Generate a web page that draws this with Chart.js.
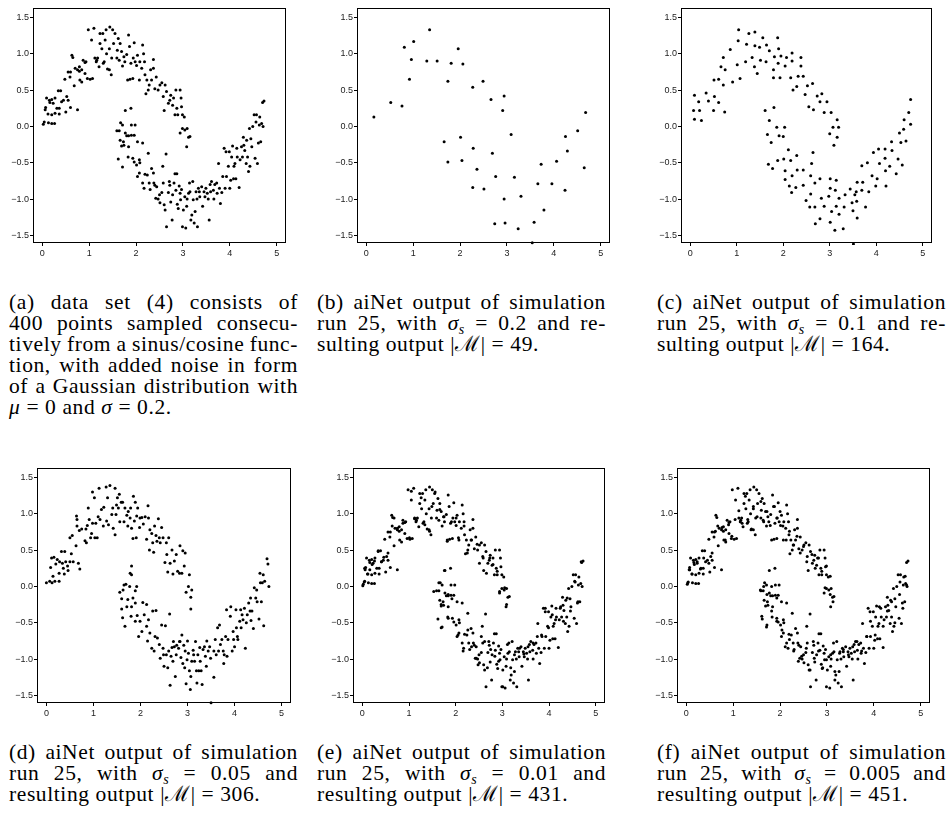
<!DOCTYPE html>
<html>
<head>
<meta charset="utf-8">
<script src="https://cdn.jsdelivr.net/npm/chart.js@4.4.1/dist/chart.umd.min.js"></script>
<style>
  body { margin: 0; background: #fff; }
  #fig { position: relative; width: 950px; height: 814px; overflow: hidden; }
  canvas { position: absolute; }
  .cap { position: absolute; width: 289px; font-family: "Liberation Serif", "Times New Roman", serif;
         font-size: 21.5px; line-height: 21px; letter-spacing: 0.6px; color: #000; }
  .cap div { white-space: nowrap; height: 21px; }
  .cap .j { display: flex; justify-content: space-between; }
  .cap sub { font-size: 14px; line-height: 0; vertical-align: -4px; font-style: italic; }
</style>
</head>
<body>
<div id="fig"></div>
<script>
// axis ticks shared by all six panels
const xTicks = [0, 1, 2, 3, 4, 5];
const yTicks = [-1.5, -1.0, -0.5, 0.0, 0.5, 1.0, 1.5];

// (a) original data set
const panelA = [
  [0.02,0.03],[0.04,0.06],[0.13,0.05],[0.2,0.04],[0.26,0.04],[0.07,0.26],[0.06,0.23],[0.09,0.39],[0.15,0.36],[0.16,0.33],
  [0.2,0.37],[0.23,0.32],[0.27,0.39],[0.34,0.49],[0.39,0.49],[0.31,0.25],[0.36,0.25],[0.45,0.36],[0.41,0.34],[0.5,0.2],
  [0.52,0.41],[0.55,0.36],[0.12,0.17],[0.2,0.16],[0.27,0.18],[0.36,0.17],[0.6,0.26],[0.48,0.65],[0.55,0.75],[0.6,0.75],
  [0.63,0.98],[0.65,0.95],[0.59,0.68],[0.68,0.56],[0.75,0.23],[0.7,0.8],[0.75,0.78],[0.79,0.82],[0.79,0.76],[0.84,0.78],
  [0.8,0.64],[0.84,0.61],[0.87,0.91],[0.91,0.88],[0.91,0.73],[0.93,0.89],[0.98,1.33],[0.96,0.66],[1.02,0.65],[1.05,1.19],
  [1.07,0.66],[1.1,1.35],[1.12,0.94],[1.15,0.89],[1.16,0.91],[1.18,0.94],[1.21,0.82],[1.23,1.14],[1.23,1.28],[1.27,1.07],
  [1.29,1.28],[1.3,0.87],[1.32,0.89],[1.34,1.19],[1.36,1.33],[1.37,1.0],[1.39,0.79],[1.43,0.78],[1.44,1.37],[1.47,0.71],
  [1.43,1.07],[1.48,0.94],[1.5,1.33],[1.52,1.14],[1.55,1.28],[1.59,0.94],[1.6,1.05],[1.62,1.21],[1.64,0.91],[1.66,1.14],
  [1.69,1.03],[1.71,0.83],[1.74,0.96],[1.76,0.89],[1.8,0.99],[1.82,0.64],[1.84,1.26],[1.86,1.1],[1.87,0.65],[1.89,0.87],
  [1.93,0.66],[1.94,0.94],[1.96,1.15],[1.98,0.89],[2.01,0.84],[2.03,0.98],[2.07,0.64],[2.08,0.89],[2.12,0.8],[2.14,1.12],
  [2.16,1.0],[2.18,0.89],[2.19,0.71],[2.23,0.64],[2.21,0.45],[2.26,0.5],[2.28,0.57],[2.31,0.78],[2.33,0.64],[2.37,0.92],
  [2.37,0.8],[2.4,0.52],[2.43,0.68],[2.47,0.5],[2.51,0.57],[2.55,0.6],[2.58,0.41],[2.6,0.22],[2.62,0.57],[2.65,0.48],
  [2.69,0.32],[2.72,0.36],[2.74,0.43],[2.78,0.29],[2.8,0.39],[2.83,0.16],[2.85,0.5],[2.87,0.25],[2.89,0.16],[2.94,0.5],
  [2.96,0.39],[2.97,0.27],[2.99,0.16],[3.03,0.13],[2.94,-0.09],[2.99,-0.03],[3.04,-0.05],[3.09,-0.03],[3.12,-0.15],[3.15,-0.14],
  [3.08,-0.28],[1.59,-0.06],[1.64,-0.06],[1.67,0.05],[1.71,0.02],[1.77,0.22],[1.89,0.25],[1.9,0.02],[1.98,0.02],[1.77,-0.09],
  [1.8,-0.13],[1.84,-0.13],[1.73,-0.21],[1.74,-0.26],[1.84,-0.28],[1.66,-0.19],[1.69,-0.27],[1.9,-0.12],[1.96,-0.12],[2.03,-0.21],
  [2.14,-0.23],[1.62,-0.45],[1.71,-0.56],[1.83,-0.42],[1.93,-0.44],[1.96,-0.49],[2.01,-0.53],[2.07,-0.46],[2.08,-0.5],[2.03,-0.69],
  [2.07,-0.64],[2.14,-0.78],[2.17,-0.85],[2.19,-0.66],[2.24,-0.67],[2.26,-0.37],[2.28,-0.78],[2.3,-0.87],[2.33,-0.58],[2.37,-0.64],
  [2.38,-0.78],[2.4,-0.81],[2.44,-0.83],[2.42,-0.99],[2.47,-1.0],[2.5,-0.94],[2.51,-1.05],[2.55,-0.91],[2.57,-0.55],[2.58,-0.78],
  [2.6,-1.08],[2.62,-1.15],[2.64,-0.38],[2.65,-1.38],[2.69,-0.91],[2.71,-0.76],[2.72,-0.81],[2.74,-1.04],[2.77,-1.29],[2.78,-0.94],
  [2.81,-0.78],[2.83,-0.65],[2.85,-0.88],[2.87,-0.65],[2.88,-1.07],[2.9,-1.13],[2.92,-0.82],[2.94,-0.92],[2.95,-1.01],[2.97,-0.87],
  [2.99,-1.38],[3.01,-1.15],[3.04,-0.97],[3.06,-1.4],[3.08,-1.1],[3.09,-1.0],[3.12,-0.92],[3.14,-0.78],[3.15,-0.9],[3.17,-1.29],
  [3.19,-1.22],[3.21,-0.76],[3.22,-1.01],[3.24,-1.33],[3.26,-1.17],[3.28,-0.9],[3.3,-1.0],[3.31,-1.38],[3.33,-0.85],[3.35,-0.9],
  [3.36,-0.97],[3.4,-0.83],[3.42,-1.1],[3.45,-0.9],[3.47,-0.97],[3.49,-0.85],[3.52,-0.92],[3.54,-1.0],[3.56,-1.29],[3.58,-0.8],
  [3.59,-0.9],[3.61,-0.76],[3.65,-0.88],[3.66,-1.0],[3.68,-0.8],[3.72,-0.78],[3.73,-0.92],[3.76,-0.51],[3.78,-0.85],[3.8,-1.06],
  [3.83,-0.91],[3.85,-0.69],[3.88,-0.3],[3.9,-0.85],[3.92,-0.35],[3.93,-0.69],[3.97,-0.55],[3.99,-0.35],[4.0,-0.85],[4.02,-0.74],
  [4.04,-0.42],[4.06,-0.27],[4.08,-0.72],[4.09,-0.55],[4.11,-0.51],[4.13,-0.72],[4.15,-0.3],[4.16,-0.42],[4.2,-0.84],[4.22,-0.46],
  [4.25,-0.28],[4.27,-0.42],[4.29,-0.15],[4.3,-0.26],[4.32,-0.33],[4.35,-0.51],[4.36,-0.19],[4.38,-0.42],[4.4,-0.62],[4.42,-0.03],
  [4.43,-0.55],[4.45,-0.17],[4.47,-0.28],[4.49,0.0],[4.52,0.16],[4.54,-0.44],[4.56,0.06],[4.57,0.16],[4.59,-0.51],[4.61,-0.23],
  [4.63,0.02],[4.64,0.13],[4.66,-0.21],[4.68,0.04],[4.7,0.33],[4.73,0.35],[4.71,0.0]
];

// (b) sigma_s = 0.2, 49 points
const panelB = [
  [0.16,0.13],[0.52,0.33],[0.76,0.28],[0.81,1.09],[0.92,0.65],[0.96,0.92],[1.01,1.17],[1.29,0.9],[1.35,1.33],[1.51,0.9],
  [1.66,-0.21],[1.74,0.62],[1.74,-0.49],[1.81,0.87],[1.96,1.07],[2.01,-0.15],[2.04,-0.47],[2.06,0.86],[2.28,-0.3],[2.27,-0.84],
  [2.27,0.54],[2.36,-0.59],[2.49,0.62],[2.51,-0.86],[2.66,0.37],[2.69,-0.37],[2.74,-1.34],[2.76,-0.69],[2.91,0.22],[2.94,0.42],
  [2.94,-1.0],[2.96,-1.33],[3.09,-0.11],[3.16,-0.7],[3.24,-1.41],[3.3,-0.96],[3.54,-1.6],[3.58,-1.32],[3.66,-0.79],[3.73,-0.52],
  [3.79,-1.15],[3.96,-0.79],[4.06,-0.48],[4.24,-0.88],[4.25,-0.14],[4.29,-0.34],[4.51,-0.06],[4.65,-0.57],[4.68,0.19]
];

// (c) sigma_s = 0.1
const panelC = [
  [0.07,0.22],[0.09,0.1],[0.09,0.43],[0.18,0.34],[0.2,0.22],[0.24,0.08],[0.34,0.46],[0.39,0.35],[0.5,0.22],[0.51,0.64],
  [0.52,0.41],[0.61,0.65],[0.61,0.33],[0.66,0.82],[0.71,0.95],[0.71,0.57],[0.75,0.78],[0.74,0.2],[0.86,1.06],[0.91,0.61],
  [1.01,0.85],[1.03,1.18],[1.04,1.33],[1.07,0.66],[1.19,0.89],[1.21,1.13],[1.26,1.28],[1.33,0.95],[1.38,0.82],[1.39,1.3],
  [1.39,1.11],[1.44,0.73],[1.49,1.09],[1.51,0.91],[1.56,1.22],[1.63,0.89],[1.64,1.12],[1.7,1.04],[1.79,0.78],[1.79,0.67],
  [1.81,0.96],[1.88,1.22],[1.89,0.87],[1.9,1.07],[1.93,0.67],[1.95,0.97],[2.04,0.83],[2.07,0.95],[2.16,0.67],[2.19,0.9],
  [2.19,1.01],[2.21,0.5],[2.29,0.55],[2.32,0.69],[2.38,0.95],[2.38,0.83],[2.43,0.69],[2.47,0.44],[2.52,0.56],[2.55,0.27],
  [2.63,0.59],[2.65,0.23],[2.73,0.42],[2.79,0.34],[2.83,0.45],[2.88,0.19],[2.94,0.34],[3.03,0.19],[3.16,0.09],[3.0,-0.1],
  [3.07,-0.01],[3.09,-0.26],[3.16,-0.15],[3.19,-0.01],[1.61,0.22],[1.8,0.26],[1.7,0.08],[1.66,-0.11],[1.74,-0.22],[1.86,-0.01],
  [1.91,-0.13],[2.03,-0.01],[2.0,-0.14],[1.68,-0.52],[1.77,-0.58],[1.88,-0.47],[2.01,-0.45],[2.04,-0.61],[2.04,-0.73],[2.11,-0.32],
  [2.16,-0.47],[2.19,-0.68],[2.13,-0.82],[2.18,-0.91],[2.29,-0.4],[2.3,-0.6],[2.27,-0.84],[2.43,-0.6],[2.43,-0.81],[2.49,-1.02],
  [2.57,-1.11],[2.59,-0.93],[2.59,-0.68],[2.61,-0.51],[2.64,-0.36],[2.68,-0.78],[2.68,-1.11],[2.69,-1.34],[2.79,-0.72],[2.82,-0.99],
  [2.79,-1.27],[2.88,-1.1],[2.98,-0.96],[3.01,-0.72],[3.01,-0.85],[3.04,-1.17],[3.01,-1.32],[3.11,-1.43],[3.12,-0.88],[3.14,-0.74],
  [3.14,-1.1],[3.2,-0.99],[3.2,-1.21],[3.29,-1.41],[3.31,-1.11],[3.33,-0.94],[3.44,-0.86],[3.48,-1.05],[3.5,-1.16],[3.51,-1.62],
  [3.54,-0.94],[3.57,-0.9],[3.58,-1.03],[3.59,-0.77],[3.59,-1.26],[3.69,-0.54],[3.69,-0.88],[3.71,-0.77],[3.77,-1.11],[3.81,-0.5],
  [3.84,-0.9],[3.91,-0.68],[3.94,-0.36],[3.99,-0.82],[4.02,-0.72],[4.05,-0.31],[4.07,-0.51],[4.19,-0.31],[4.19,-0.44],[4.2,-0.61],
  [4.21,-0.82],[4.29,-0.55],[4.33,-0.21],[4.34,-0.33],[4.43,-0.65],[4.47,-0.45],[4.5,-0.09],[4.53,-0.22],[4.56,-0.53],[4.59,-0.04],
  [4.6,0.09],[4.64,-0.2],[4.7,0.19],[4.74,0.03],[4.74,0.37]
];

// (d) sigma_s = 0.05
const panelD = [
  [0.0,0.05],[0.07,0.07],[0.12,0.05],[0.14,0.14],[0.18,0.07],[0.27,0.07],[0.09,0.26],[0.11,0.39],[0.16,0.4],[0.2,0.31],
  [0.23,0.37],[0.27,0.18],[0.28,0.34],[0.32,0.48],[0.36,0.25],[0.34,0.32],[0.38,0.17],[0.39,0.48],[0.41,0.34],[0.45,0.28],
  [0.46,0.22],[0.5,0.34],[0.53,0.45],[0.5,0.67],[0.55,0.7],[0.57,0.34],[0.63,0.56],[0.64,0.97],[0.65,0.83],[0.65,0.92],
  [0.68,0.32],[0.7,0.77],[0.71,0.24],[0.75,0.79],[0.82,0.63],[0.84,0.79],[0.85,0.6],[0.87,0.84],[0.89,1.08],[0.91,0.92],
  [0.94,0.67],[0.96,0.73],[0.98,1.3],[0.98,0.87],[1.02,1.22],[1.03,0.67],[1.05,0.87],[1.08,0.67],[1.1,0.96],[1.12,1.35],
  [1.14,0.92],[1.17,1.06],[1.21,0.83],[1.22,1.09],[1.27,1.37],[1.28,0.9],[1.3,1.22],[1.32,0.85],[1.35,1.39],[1.39,0.99],
  [1.41,1.08],[1.42,0.8],[1.46,0.71],[1.46,1.35],[1.48,0.99],[1.49,1.12],[1.51,1.22],[1.53,1.08],[1.55,1.27],[1.56,0.89],
  [1.59,1.16],[1.62,1.16],[1.65,0.89],[1.67,1.08],[1.71,0.98],[1.73,0.83],[1.74,1.03],[1.78,0.94],[1.79,1.08],[1.81,0.8],
  [1.84,0.66],[1.85,1.24],[1.87,0.9],[1.89,1.16],[1.91,0.67],[1.92,0.97],[1.94,1.08],[1.98,0.81],[1.99,0.94],[2.03,0.95],
  [2.06,0.86],[2.1,0.96],[2.13,0.65],[2.16,1.11],[2.17,0.94],[2.19,0.5],[2.2,0.78],[2.24,0.73],[2.26,0.6],[2.28,0.47],
  [2.3,0.83],[2.33,0.7],[2.35,0.62],[2.38,0.93],[2.4,0.67],[2.42,0.6],[2.45,0.81],[2.48,0.67],[2.52,0.33],[2.55,0.6],
  [2.56,0.44],[2.58,0.2],[2.6,0.67],[2.63,0.32],[2.67,0.5],[2.69,0.17],[2.72,0.35],[2.76,0.44],[2.79,0.21],[2.83,0.18],
  [2.84,0.56],[2.88,0.18],[2.9,0.49],[2.93,0.28],[2.95,0.46],[2.97,-0.08],[3.02,0.0],[3.04,0.16],[3.07,-0.15],[3.09,-0.05],
  [3.07,-0.31],[1.56,-0.08],[1.6,-0.17],[1.63,-0.05],[1.65,0.02],[1.69,0.03],[1.71,-0.28],[1.73,-0.18],[1.77,0.0],[1.78,0.18],
  [1.81,0.28],[1.81,0.16],[1.84,-0.16],[1.89,-0.06],[1.92,0.0],[1.6,-0.31],[1.62,-0.43],[1.67,-0.55],[1.81,-0.28],[1.89,-0.23],
  [2.05,-0.22],[2.13,-0.25],[1.8,-0.41],[1.89,-0.48],[1.93,-0.4],[1.96,-0.69],[1.99,-0.48],[2.03,-0.62],[2.08,-0.39],[2.13,-0.55],
  [2.15,-0.75],[2.17,-0.46],[2.2,-0.64],[2.24,-0.85],[2.26,-0.34],[2.29,-0.89],[2.31,-0.69],[2.33,-0.33],[2.36,-0.71],[2.4,-0.8],
  [2.42,-0.99],[2.45,-0.53],[2.48,-0.85],[2.49,-0.94],[2.5,-1.1],[2.53,-0.54],[2.55,-0.94],[2.58,-1.12],[2.6,-0.89],[2.62,-0.38],
  [2.63,-1.36],[2.65,-0.96],[2.67,-0.84],[2.69,-1.03],[2.7,-0.76],[2.72,-0.83],[2.74,-1.24],[2.76,-0.94],[2.77,-0.81],[2.81,-0.85],
  [2.83,-0.76],[2.84,-0.76],[2.86,-0.98],[2.88,-0.67],[2.9,-1.06],[2.92,-0.81],[2.94,-1.12],[2.95,-0.89],[2.97,-1.34],[2.99,-1.01],
  [3.0,-0.75],[3.02,-0.92],[3.04,-1.16],[3.06,-1.42],[3.07,-1.24],[3.09,-1.03],[3.12,-0.88],[3.13,-0.94],[3.15,-1.03],[3.17,-0.76],
  [3.19,-1.16],[3.2,-1.33],[3.22,-0.94],[3.24,-1.16],[3.26,-0.84],[3.27,-1.03],[3.29,-1.16],[3.31,-1.35],[3.33,-0.87],[3.36,-0.83],
  [3.38,-0.96],[3.4,-1.1],[3.41,-0.75],[3.44,-0.89],[3.47,-0.83],[3.49,-0.99],[3.5,-1.6],[3.56,-1.25],[3.56,-0.89],[3.59,-0.73],
  [3.61,-0.94],[3.64,-0.57],[3.66,-0.89],[3.68,-0.53],[3.7,-0.8],[3.73,-0.73],[3.76,-0.89],[3.77,-1.06],[3.78,-0.94],[3.81,-0.69],
  [3.83,-0.32],[3.84,-0.96],[3.86,-0.73],[3.91,-0.41],[3.92,-0.28],[3.95,-0.89],[3.97,-0.62],[3.98,-0.73],[4.0,-0.83],[4.03,-0.32],
  [4.04,-0.57],[4.06,-0.69],[4.07,-0.73],[4.11,-0.48],[4.13,-0.32],[4.14,-0.57],[4.16,-0.39],[4.18,-0.46],[4.21,-0.3],[4.23,-0.85],
  [4.25,-0.5],[4.27,-0.39],[4.3,-0.23],[4.33,-0.34],[4.34,-0.16],[4.35,-0.47],[4.37,-0.34],[4.4,-0.58],[4.42,-0.02],[4.45,-0.16],
  [4.47,-0.05],[4.48,-0.21],[4.52,-0.45],[4.54,0.18],[4.55,0.05],[4.57,-0.21],[4.59,0.05],[4.61,0.16],[4.62,-0.54],[4.64,0.07],
  [4.69,0.38],[4.71,0.31],[4.73,0.0]
];

// (e) sigma_s = 0.01: the data set plus the extra points visible next to it
const panelEExtra = [
  [0.01,0.01],[0.05,0.07],[0.05,0.25],[0.11,0.17],[0.16,0.23],[0.21,0.3],[0.26,0.35],[0.34,0.48],[0.41,0.34],[0.46,0.4],
  [0.55,0.46],[0.64,0.83],[0.68,0.94],[0.75,0.8],[0.87,0.87],[1.01,0.67],[1.05,1.31],[1.12,0.93],[1.26,1.22],[1.34,0.85],
  [1.44,0.76],[1.49,1.1],[1.56,1.3],[1.66,1.06],[1.75,0.96],[1.82,0.62],[1.91,0.89],[2.01,0.94],[2.06,0.67],[2.18,0.83],
  [2.25,0.46],[2.34,0.64],[2.46,0.58],[2.51,0.32],[2.59,0.39],[2.66,0.18],[2.73,0.39],[2.8,0.3],[2.89,0.21],[2.94,-0.07],
  [3.05,-0.02],[3.09,-0.25],[1.53,-0.07],[1.64,0.05],[1.69,-0.25],[1.76,0.22],[1.84,-0.11],[1.92,-0.17],[1.69,-0.57],[1.84,-0.44],
  [2.05,-0.67],[2.16,-0.89],[2.26,-0.6],[2.34,-0.83],[2.44,-0.99],[2.48,-1.08],[2.55,-0.69],[2.62,-0.76],[2.68,-1.12],[2.75,-0.87],
  [2.84,-0.96],[2.92,-1.03],[3.01,-1.38],[3.11,-0.8],[3.18,-1.12],[3.26,-0.94],[3.37,-0.85],[3.46,-0.93],[3.55,-0.83],[3.66,-0.78],
  [3.75,-0.69],[3.84,-0.67],[3.92,-0.3],[3.99,-0.57],[4.07,-0.39],[4.14,-0.46],[4.24,-0.3],[4.31,-0.48],[4.39,-0.16],[4.46,-0.34],
  [4.55,0.07],[4.62,-0.21],[4.69,0.34]
];

// (f) sigma_s = 0.005: the data set plus the extra points visible next to it
const panelFExtra = [
  [0.03,0.05],[0.07,0.23],[0.12,0.17],[0.17,0.3],[0.23,0.34],[0.3,0.24],[0.37,0.39],[0.48,0.32],[0.55,0.46],[0.62,0.76],
  [0.67,0.83],[0.76,0.81],[0.83,0.64],[0.9,0.85],[0.97,0.69],[1.04,0.92],[1.12,1.04],[1.19,0.87],[1.26,1.24],[1.31,0.92],
  [1.38,0.78],[1.43,1.1],[1.51,0.96],[1.59,1.17],[1.65,0.89],[1.72,1.03],[1.79,0.84],[1.88,1.1],[1.93,0.94],[2.0,1.03],
  [2.06,0.83],[2.13,0.64],[2.2,0.76],[2.29,0.57],[2.36,0.69],[2.43,0.46],[2.5,0.55],[2.57,0.34],[2.68,0.44],[2.75,0.25],
  [2.82,0.39],[2.89,0.21],[2.99,0.28],[3.07,0.14],[2.96,-0.02],[3.07,-0.11],[3.13,-0.21],[1.58,-0.05],[1.65,0.0],[1.72,-0.11],
  [1.82,0.0],[1.93,-0.16],[1.61,-0.41],[1.72,-0.53],[1.82,-0.34],[1.93,-0.48],[2.04,-0.6],[2.11,-0.83],[2.2,-0.73],[2.29,-0.89],
  [2.39,-1.03],[2.46,-0.96],[2.56,-0.85],[2.64,-1.15],[2.73,-0.99],[2.82,-0.89],[2.91,-1.12],[2.99,-1.01],[3.08,-0.94],[3.17,-1.17],
  [3.27,-0.92],[3.35,-0.87],[3.46,-0.94],[3.55,-0.83],[3.64,-0.76],[3.74,-0.89],[3.85,-0.69],[3.93,-0.48],[4.03,-0.67],[4.12,-0.28],
  [4.2,-0.55],[4.29,-0.34],[4.38,-0.21],[4.45,-0.5],[4.55,-0.11],[4.62,-0.3],[4.67,0.14],[4.7,0.02]
];

const captionA = [
  '(a) data set (4) consists of',
  '400 points sampled consecu-',
  'tively from a sinus/cosine func-',
  'tion, with added noise in form',
  'of a Gaussian distribution with',
  '<i>μ</i> = 0 and <i>σ</i> = 0.2.'
];
const captionB = ['(b) aiNet output of simulation', 'run 25, with <i>σ</i><sub>s</sub> = 0.2 and re-', 'sulting output |ℳ| = 49.'];
const captionC = ['(c) aiNet output of simulation', 'run 25, with <i>σ</i><sub>s</sub> = 0.1 and re-', 'sulting output |ℳ| = 164.'];
const captionD = ['(d) aiNet output of simulation', 'run 25, with <i>σ</i><sub>s</sub> = 0.05 and', 'resulting output |ℳ| = 306.'];
const captionE = ['(e) aiNet output of simulation', 'run 25, with <i>σ</i><sub>s</sub> = 0.01 and', 'resulting output |ℳ| = 431.'];
const captionF = ['(f) aiNet output of simulation', 'run 25, with <i>σ</i><sub>s</sub> = 0.005 and', 'resulting output |ℳ| = 451.'];

const fig = document.getElementById('fig');

// plain box around the plotting region, like R's box()
const boxPlugin = {
  id: 'box',
  afterDatasetsDraw(chart) {
    const a = chart.chartArea, c = chart.ctx;
    c.save();
    c.strokeStyle = '#000';
    c.lineWidth = 1;
    c.strokeRect(Math.round(a.left) + 0.5, Math.round(a.top) + 0.5,
                 Math.round(a.right - a.left) - 1, Math.round(a.bottom - a.top) - 1);
    c.restore();
  }
};

const tickFont = { family: '"Liberation Sans", Arial, sans-serif', size: 9 };

function makePanel(box, points) {
  const canvas = document.createElement('canvas');
  const w = (box.r - box.l) + 42, h = (box.b - box.t) + 34;
  canvas.width = w; canvas.height = h;
  canvas.style.left = (box.l - 34) + 'px';
  canvas.style.top = (box.t - 10) + 'px';
  canvas.style.width = w + 'px'; canvas.style.height = h + 'px';
  fig.appendChild(canvas);

  new Chart(canvas, {
    type: 'scatter',
    data: {
      datasets: [{
        data: points.map(p => ({ x: p[0], y: p[1] })),
        pointRadius: 1.5,
        pointBorderWidth: 0,
        pointBackgroundColor: '#000',
        clip: 2
      }]
    },
    options: {
      responsive: false,
      animation: false,
      devicePixelRatio: 1,
      layout: { padding: { left: 4, top: 10, right: 8, bottom: 4 } },
      plugins: { legend: { display: false }, tooltip: { enabled: false } },
      scales: {
        x: {
          type: 'linear', min: -0.2, max: 5.2,
          afterBuildTicks: s => { s.ticks = xTicks.map(v => ({ value: v })); },
          afterFit: s => { s.height = 20; },
          ticks: { font: tickFont, color: '#222', padding: 2, maxRotation: 0, autoSkip: false,
                   callback: v => String(v) },
          grid: { display: true, drawOnChartArea: false, drawTicks: true, tickLength: 3, color: '#000' },
          border: { display: false }
        },
        y: {
          type: 'linear', min: -1.605, max: 1.63,
          afterBuildTicks: s => { s.ticks = yTicks.map(v => ({ value: v })); },
          afterFit: s => { s.width = 30; },
          ticks: { font: tickFont, color: '#222', padding: 1, autoSkip: false,
                   callback: v => v.toFixed(1).replace('-', '\u2212') },
          grid: { display: true, drawOnChartArea: false, drawTicks: true, tickLength: 3, color: '#000' },
          border: { display: false }
        }
      }
    },
    plugins: [boxPlugin]
  });
}

// justified lines are laid out word by word so they can never wrap
function makeCaption(lines, left, top) {
  const d = document.createElement('div');
  d.className = 'cap';
  d.style.left = left + 'px';
  d.style.top = top + 'px';
  d.innerHTML = lines.map((t, i) => {
    if (i === lines.length - 1) return '<div>' + t + '</div>';
    return '<div class="j">' + t.split(' ').map(w => '<span>' + w + '</span>').join('') + '</div>';
  }).join('');
  fig.appendChild(d);
}

makePanel({ l: 33, t: 8, r: 286, b: 243 }, panelA);
makePanel({ l: 357, t: 8, r: 610, b: 243 }, panelB);
makePanel({ l: 681, t: 8, r: 932, b: 243 }, panelC);
makePanel({ l: 37, t: 468, r: 291, b: 703 }, panelD);
makePanel({ l: 353, t: 468, r: 605, b: 703 }, panelA.concat(panelEExtra));
makePanel({ l: 677, t: 468, r: 930, b: 703 }, panelA.concat(panelFExtra));

makeCaption(captionA, 9, 292);
makeCaption(captionB, 317, 292);
makeCaption(captionC, 657, 292);
makeCaption(captionD, 9, 742);
makeCaption(captionE, 317, 742);
makeCaption(captionF, 657, 742);
</script>
</body>
</html>
